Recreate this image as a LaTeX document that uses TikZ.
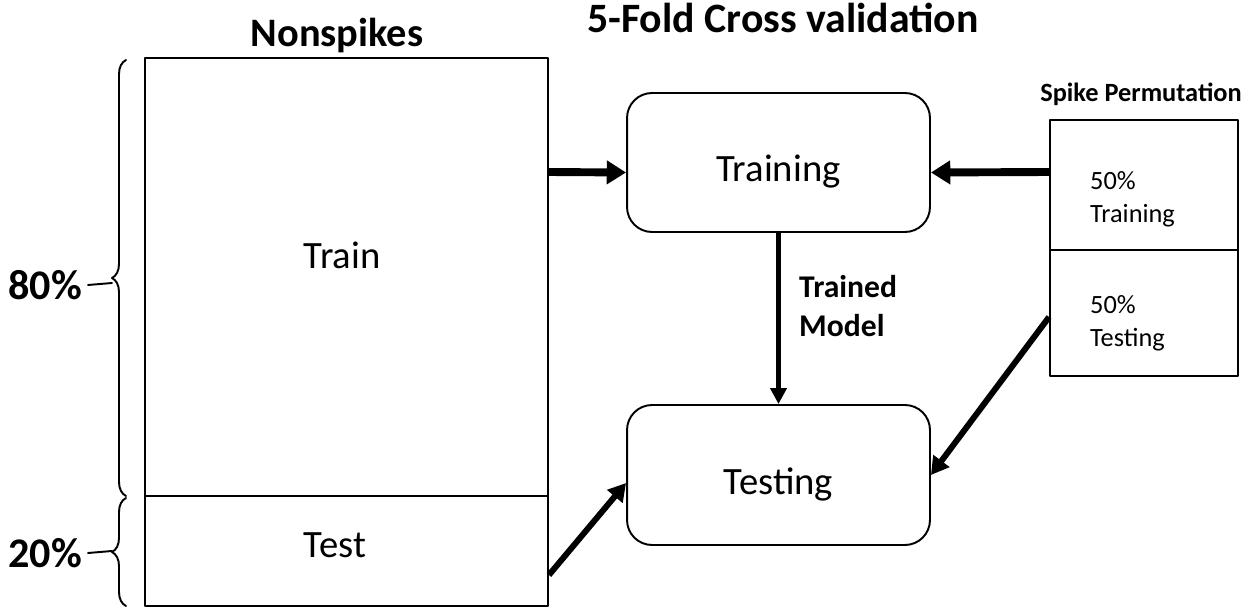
\documentclass[tikz,border=0pt]{standalone}
\usepackage{fontspec}
\setmainfont{Carlito}
\usetikzlibrary{arrows.meta,decorations.pathreplacing}
\tikzset{
  part/.style={draw,line width=1.1pt,inner sep=0pt},
  stage/.style={draw,line width=1.1pt,rounded corners=0.5cm,minimum width=6.06cm,inner sep=0pt},
  bigtext/.style={font=\fontsize{22}{26}\selectfont},
  bigarrow/.style={line width=4.5pt,line cap=butt,-{Triangle[length=11pt,width=13pt]}},
  slantarrow/.style={line width=3.4pt,line cap=butt,-{Triangle[length=10pt,width=11pt]}},
  midarrow/.style={line width=2.8pt,line cap=butt,-{Triangle[length=9pt,width=9pt]}},
  pct/.style={font=\bfseries\fontsize{24}{28}\selectfont},
  bracepart/.style={line width=1.1pt,decorate,decoration={brace,amplitude=0.28cm}}
}
\begin{document}
\begin{tikzpicture}[line cap=round,line join=round,x=0.02cm,y=-0.02cm]
	\useasboundingbox (0,0) rectangle (1253,611);
	% nonspikes split
	\node[part,minimum width=8.06cm,minimum height=8.76cm] (trainbox) at (346.5,277) {};
	\node[part,minimum width=8.06cm,minimum height=2.2cm] (testbox) at (346.5,551) {};
	\node[bigtext] (traintext) at (342,255) {Train};
	\node[bigtext] (testtext) at (335,545) {Test};
	\node[font=\bfseries\fontsize{23}{27}\selectfont] (nonspikes) at (337,36) {Nonspikes};
	% braces
	\draw[bracepart] (126,496) -- (126,60);
	\draw[bracepart] (126,606) -- (126,498);
	\node[pct,anchor=east] (eighty) at (88,285) {80\%};
	\node[pct,anchor=east] (twenty) at (88,553) {20\%};
	\draw[line width=1.1pt] (eighty.east) -- (112,283);
	\draw[line width=1.1pt] (twenty.east) -- (112,551);
	% cross validation
	\node[font=\bfseries\fontsize{23.8}{28}\selectfont] (cvtitle) at (783,18) {5-Fold Cross validation};
	\node[stage,minimum height=2.78cm] (training) at (778.5,162.5) {};
	\node[stage,minimum height=2.8cm] (testing) at (778.5,475) {};
	\node[bigtext] (trainingtext) at ([yshift=-0.18cm]training) {Training};
	\node[bigtext] (testingtext) at ([yshift=-0.18cm]testing) {Testing};
	\node[font=\bfseries\fontsize{18}{22}\selectfont,align=left,anchor=west] (model) at (793,306) {Trained\\Model};
	% spikes
	\node[part,minimum width=3.76cm,minimum height=2.6cm] (spiketrain) at (1144,185) {};
	\node[part,minimum width=3.76cm,minimum height=2.52cm] (spiketest) at (1144,313) {};
	\node[font=\fontsize{15}{19}\selectfont,align=left,anchor=west] (spiketraintext) at (1084,199) {50\%\\Training};
	\node[font=\fontsize{15}{19}\selectfont,align=left,anchor=west] (spiketesttext) at (1084,323) {50\%\\Testing};
	\node[font=\bfseries\fontsize{15}{18}\selectfont] (spiketitle) at (1141,94) {Spike Permutation};
	% arrows
	\draw[bigarrow] (trainbox.east |- 0,172) -- ([yshift=-0.2cm]training.west);
	\draw[bigarrow] (spiketrain.west |- 0,172) -- ([yshift=-0.2cm]training.east);
	\draw[midarrow] (training.south) -- (testing.north);
	\draw[slantarrow] ([yshift=-0.48cm]testbox.east) -- ([yshift=-0.16cm]testing.west);
	\draw[slantarrow] ([yshift=-0.08cm]spiketest.west) -- (testing.east);
\end{tikzpicture}
\end{document}
